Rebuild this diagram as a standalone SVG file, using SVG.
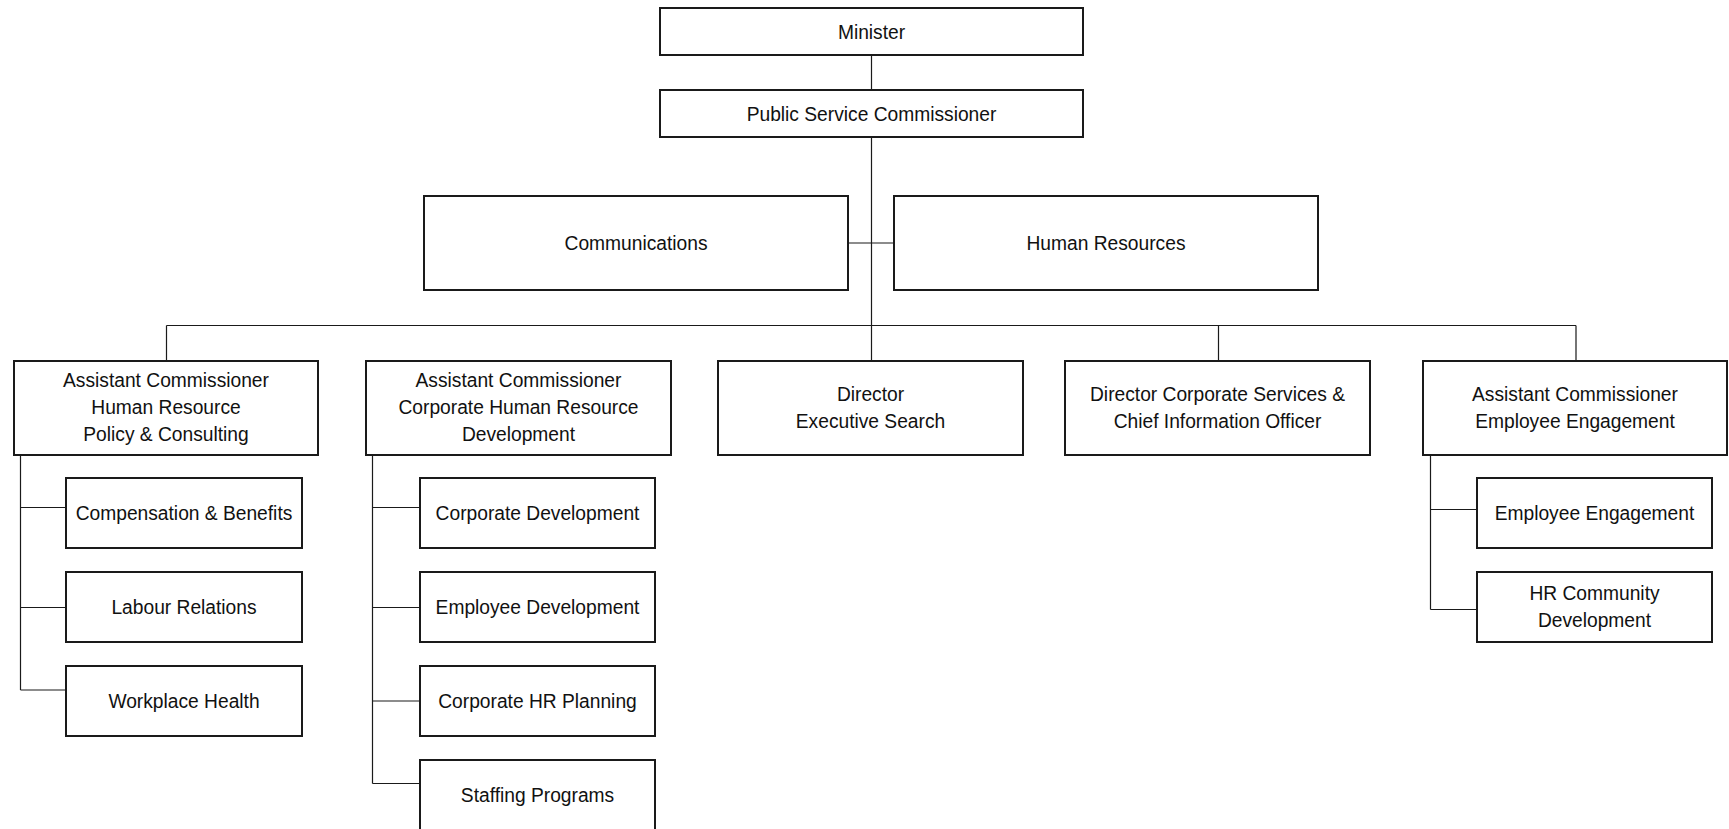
<svg xmlns="http://www.w3.org/2000/svg" width="1729" height="829" viewBox="0 0 1729 829">
<style>
.box{fill:#fff;stroke:#1a1a1a;stroke-width:2}
.ln{fill:none;stroke:#1a1a1a;stroke-width:1.2}
text{font-family:"Liberation Sans",Arial,sans-serif;font-size:21px;fill:#111;text-anchor:middle}
</style>
<rect width="1729" height="829" fill="#fff"/>
<g id="connectors">
<path class="ln" d="M871.5 55V90M871.5 137V361M848 243H894M166.5 325.5H1576M166.5 325.5V361M1218.5 325.5V361M1576 325.5V361"/>
<path class="ln" d="M20.5 455V690M20.5 507.5H66M20.5 607.5H66M20.5 690H66"/>
<path class="ln" d="M372.5 455V783.5M372.5 507.5H420M372.5 607.5H420M372.5 701H420M372.5 783.5H420"/>
<path class="ln" d="M1430.5 455V609.5M1430.5 509.5H1477M1430.5 609.5H1477"/>
</g>
<g id="minister"><rect class="box" x="660" y="8" width="423" height="47"/><text transform="translate(871.5 0) scale(0.915 1)" y="39">Minister</text></g>
<g id="psc"><rect class="box" x="660" y="90" width="423" height="47"/><text transform="translate(871.5 0) scale(0.915 1)" y="121.5">Public Service Commissioner</text></g>
<g id="communications"><rect class="box" x="424" y="196" width="424" height="94"/><text transform="translate(636 0) scale(0.915 1)" y="250.5">Communications</text></g>
<g id="human-resources"><rect class="box" x="894" y="196" width="424" height="94"/><text transform="translate(1106 0) scale(0.915 1)" y="250.5">Human Resources</text></g>
<g id="ac-hrpc"><rect class="box" x="14" y="361" width="304" height="94"/><text transform="translate(166 0) scale(0.915 1)"><tspan x="0" y="387.5">Assistant Commissioner</tspan><tspan x="0" y="414.5">Human Resource</tspan><tspan x="0" y="441.5">Policy &amp; Consulting</tspan></text></g>
<g id="ac-chrd"><rect class="box" x="366" y="361" width="305" height="94"/><text transform="translate(518.5 0) scale(0.915 1)"><tspan x="0" y="387.5">Assistant Commissioner</tspan><tspan x="0" y="414.5">Corporate Human Resource</tspan><tspan x="0" y="441.5">Development</tspan></text></g>
<g id="dir-es"><rect class="box" x="718" y="361" width="305" height="94"/><text transform="translate(870.5 0) scale(0.915 1)"><tspan x="0" y="401">Director</tspan><tspan x="0" y="428">Executive Search</tspan></text></g>
<g id="dir-cs"><rect class="box" x="1065" y="361" width="305" height="94"/><text transform="translate(1217.5 0) scale(0.915 1)"><tspan x="0" y="401">Director Corporate Services &amp;</tspan><tspan x="0" y="428">Chief Information Officer</tspan></text></g>
<g id="ac-ee"><rect class="box" x="1423" y="361" width="304" height="94"/><text transform="translate(1575 0) scale(0.915 1)"><tspan x="0" y="401">Assistant Commissioner</tspan><tspan x="0" y="428">Employee Engagement</tspan></text></g>
<g id="comp-benefits"><rect class="box" x="66" y="478" width="236" height="70"/><text transform="translate(184 0) scale(0.915 1)" y="520.5">Compensation &amp; Benefits</text></g>
<g id="labour-relations"><rect class="box" x="66" y="572" width="236" height="70"/><text transform="translate(184 0) scale(0.915 1)" y="614.5">Labour Relations</text></g>
<g id="workplace-health"><rect class="box" x="66" y="666" width="236" height="70"/><text transform="translate(184 0) scale(0.915 1)" y="708.5">Workplace Health</text></g>
<g id="corp-dev"><rect class="box" x="420" y="478" width="235" height="70"/><text transform="translate(537.5 0) scale(0.915 1)" y="520.5">Corporate Development</text></g>
<g id="emp-dev"><rect class="box" x="420" y="572" width="235" height="70"/><text transform="translate(537.5 0) scale(0.915 1)" y="614.5">Employee Development</text></g>
<g id="corp-hr-planning"><rect class="box" x="420" y="666" width="235" height="70"/><text transform="translate(537.5 0) scale(0.915 1)" y="708.5">Corporate HR Planning</text></g>
<g id="staffing"><rect class="box" x="420" y="760" width="235" height="72"/><text transform="translate(537.5 0) scale(0.915 1)" y="802.5">Staffing Programs</text></g>
<g id="emp-engagement"><rect class="box" x="1477" y="478" width="235" height="70"/><text transform="translate(1594.5 0) scale(0.915 1)" y="520.5">Employee Engagement</text></g>
<g id="hr-community"><rect class="box" x="1477" y="572" width="235" height="70"/><text transform="translate(1594.5 0) scale(0.915 1)"><tspan x="0" y="600">HR Community</tspan><tspan x="0" y="627">Development</tspan></text></g>
</svg>
